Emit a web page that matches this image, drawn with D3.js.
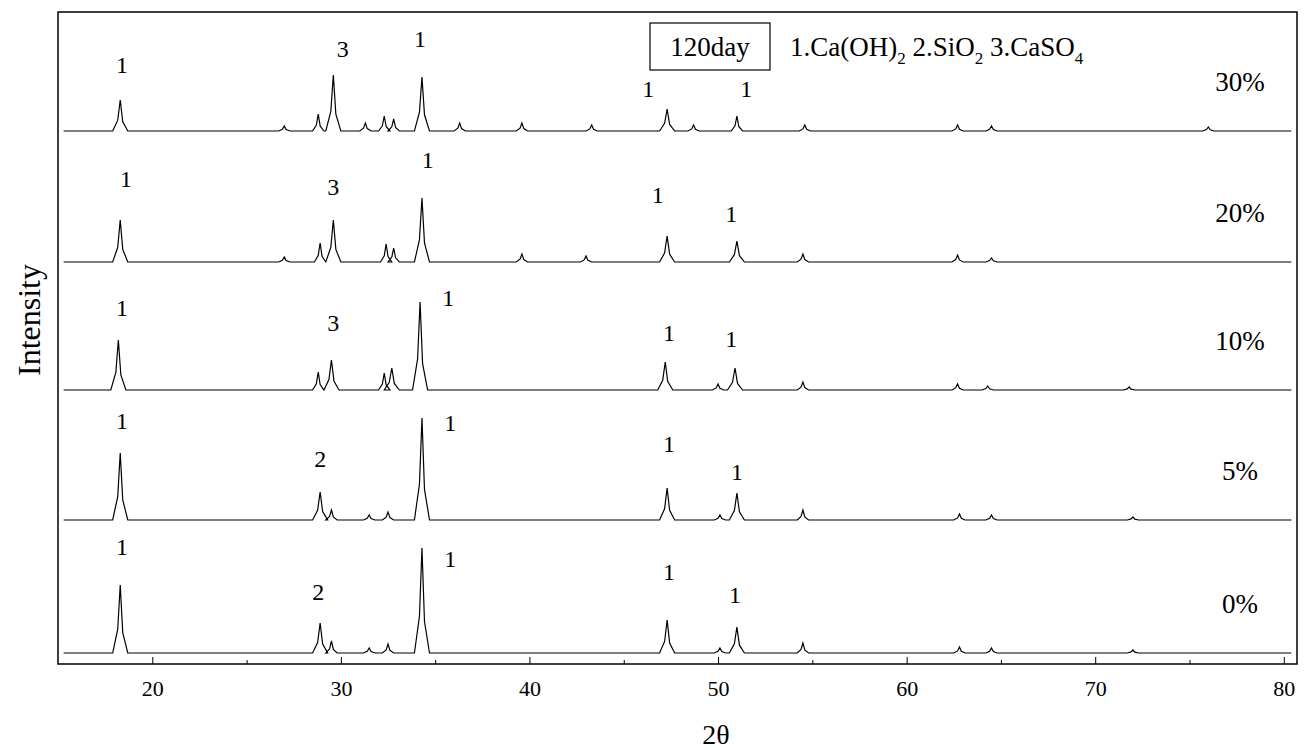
<!DOCTYPE html>
<html><head><meta charset="utf-8">
<script src="https://cdn.jsdelivr.net/npm/d3@7"></script>
<style>body{margin:0;background:#fff}text{font-family:"Liberation Serif","DejaVu Serif",serif}</style>
</head><body>
<script>
// samples, baseline offsets and peaks [2theta, height]
var samples = ["0%", "5%", "10%", "20%", "30%"];
var offsets = [11, 144, 274, 402, 533];
var peaks = [
  [[18.3,68],[28.9,30],[29.5,12],[31.5,5],[32.5,9],[34.3,105],[47.3,33],[50.1,5],[51,26],[54.5,10],[62.8,6],[64.5,5],[72,3]],
  [[18.3,67],[28.9,28],[29.5,10],[31.5,5],[32.5,8],[34.3,102],[47.3,32],[50.1,5],[51,27],[54.5,10],[62.8,6],[64.5,5],[72,3]],
  [[18.2,50],[28.8,18],[29.5,30],[32.3,17],[32.7,22],[34.2,88],[47.2,28],[50,6],[50.9,22],[54.5,8],[62.7,6],[64.3,4],[71.8,3]],
  [[18.3,42],[27,5],[28.9,19],[29.6,42],[32.4,18],[32.8,14],[34.3,64],[39.6,8],[43,6],[47.3,26],[51,21],[54.5,8],[62.7,7],[64.5,4]],
  [[18.3,31],[27,5],[28.8,17],[29.6,56],[31.3,8],[32.3,15],[32.8,12],[34.3,54],[36.3,8],[39.6,8],[43.3,6],[47.3,22],[48.7,6],[51,15],[54.6,6],[62.7,6],[64.5,5],[76,4]]
];
// peak labels [2theta, y, text]
var labels = [
  [[18.4,109,"1"],[28.8,64,"2"],[35.8,97,"1"],[47.4,84,"1"],[50.9,61,"1"]],
  [[18.4,235,"1"],[28.9,197,"2"],[35.8,233,"1"],[47.4,212,"1"],[51,184,"1"]],
  [[18.4,348,"1"],[29.6,333,"3"],[35.7,358,"1"],[47.4,323,"1"],[50.7,317,"1"]],
  [[18.6,477,"1"],[29.6,469,"3"],[34.6,496,"1"],[46.8,461,"1"],[50.7,442,"1"]],
  [[18.4,591,"1"],[30.1,607,"3"],[34.2,617,"1"],[46.3,567,"1"],[51.5,567,"1"]]
];
var xTicks = [20, 30, 40, 50, 60, 70, 80];

var W = 1306, H = 750, L = 58, R = 1297, T = 12, B = 664;
var svg = d3.select("body").append("svg").attr("width", W).attr("height", H);
var x = d3.scaleLinear().domain([15, 80.7]).range([L, R]);
var y = d3.scaleLinear().domain([0, 652]).range([B, T]);

function trace(pk, off) {
  var pts = [[15.3, 0]];
  pk.forEach(function (p) {
    var w = p[1] > 20 ? 0.4 : 0.3;
    pts.push([p[0] - w, 0], [p[0] - w / 3, p[1] * 0.35], [p[0], p[1]], [p[0] + w / 3, p[1] * 0.3], [p[0] + w, 0]);
  });
  pts.push([80.4, 0]);
  return pts.map(function (d) { return [d[0], d[1] + off]; });
}
var line = d3.line().x(function (d) { return x(d[0]); }).y(function (d) { return y(d[1]); });

samples.forEach(function (s, i) {
  svg.append("path").attr("d", line(trace(peaks[i], offsets[i])))
    .attr("fill", "none").attr("stroke", "#000").attr("stroke-width", 1.2);
  svg.append("text").attr("x", 1240).attr("y", y(offsets[i] + 40)).attr("text-anchor", "middle")
    .attr("font-size", 27).text(s);
  labels[i].forEach(function (l) {
    svg.append("text").attr("x", x(l[0])).attr("y", y(l[1])).attr("text-anchor", "middle")
      .attr("font-size", 24).text(l[2]);
  });
});

svg.append("rect").attr("x", L).attr("y", T).attr("width", R - L).attr("height", B - T)
  .attr("fill", "none").attr("stroke", "#000").attr("stroke-width", 1.5);
var ax = svg.append("g").attr("transform", "translate(0," + B + ")")
  .call(d3.axisBottom(x).tickValues(xTicks).tickSize(-7).tickPadding(16).tickFormat(d3.format("d")));
ax.select(".domain").remove();
ax.selectAll("text").attr("font-size", 22).attr("font-family", null);
svg.append("g").attr("transform", "translate(0," + B + ")")
  .call(d3.axisBottom(x).tickValues(d3.range(25, 80, 10)).tickSize(-4).tickFormat(""))
  .select(".domain").remove();

svg.append("text").attr("x", 716).attr("y", 744).attr("text-anchor", "middle").attr("font-size", 28).text("2θ");
svg.append("text").attr("transform", "translate(40,320) rotate(-90)").attr("text-anchor", "middle")
  .attr("font-size", 32).text("Intensity");

svg.append("rect").attr("x", 650).attr("y", 23).attr("width", 120).attr("height", 47)
  .attr("fill", "none").attr("stroke", "#000").attr("stroke-width", 1.2);
svg.append("text").attr("x", 710).attr("y", 56).attr("text-anchor", "middle").attr("font-size", 27).text("120day");
var lg = svg.append("text").attr("x", 790).attr("y", 56).attr("font-size", 27);
lg.append("tspan").text("1.Ca(OH)");
lg.append("tspan").attr("font-size", 17).attr("dy", 8).text("2");
lg.append("tspan").attr("dy", -8).text(" 2.SiO");
lg.append("tspan").attr("font-size", 17).attr("dy", 8).text("2");
lg.append("tspan").attr("dy", -8).text(" 3.CaSO");
lg.append("tspan").attr("font-size", 17).attr("dy", 8).text("4");
</script>
</body></html>
